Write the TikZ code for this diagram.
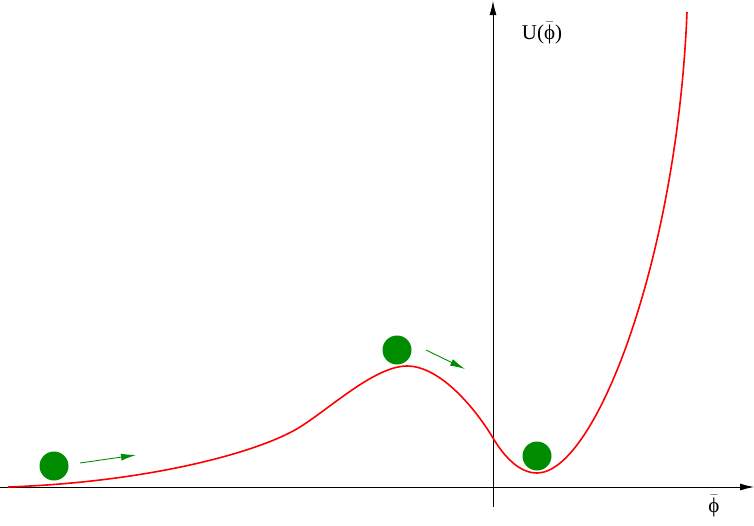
\documentclass[tikz,border=0pt]{standalone}
\usepackage{fontspec}
\setmainfont{Liberation Serif}
\usetikzlibrary{arrows.meta}
\definecolor{ballgreen}{RGB}{0,140,0}
\newcommand{\phibar}{$\bar{\mbox{ϕ}}$}
\tikzset{
  axis/.style={line width=0.8pt, -{Latex[length=14pt,width=7pt]}},
  ball/.style={circle, fill=ballgreen, minimum size=29pt, inner sep=0pt},
  motion/.style={ballgreen, line width=0.9pt, -{Latex[length=15pt,width=7pt]}},
  lbl/.style={font=\fontsize{21}{24}\selectfont, inner sep=0pt}
}
\begin{document}
\begin{tikzpicture}[x=1pt,y=-1pt]
\useasboundingbox (0,0) rectangle (754,525);
\coordinate (xs) at (0,487);
\coordinate (xe) at (754,487);
\coordinate (ys) at (493,507);
\coordinate (ye) at (493,1);
\draw[axis] (xs) -- (xe);
\draw[axis] (ys) -- (ye);
\node[lbl] (ulab) at (542,33) {U(\phibar)};
\node[lbl] (plab) at (714,506) {\phibar};
\draw[red, line width=1.6pt] (8,487)
  .. controls (150,482) and (260,452) .. (300,427)
  .. controls (330,408.3) and (375,366) .. (407,366)
  .. controls (440,366) and (475,408) .. (493,438)
  .. controls (505,458) and (520,473) .. (537,473)
  .. controls (595,473) and (677,260) .. (687,12);
\node[ball] (b1) at (54,466) {};
\node[ball] (b2) at (397,350) {};
\node[ball] (b3) at (537,456) {};
\coordinate (a1s) at (80,463);
\coordinate (a1e) at (136,455);
\coordinate (a2s) at (426,350);
\coordinate (a2e) at (465,369);
\draw[motion] (a1s) -- (a1e);
\draw[motion] (a2s) -- (a2e);
\end{tikzpicture}
\end{document}
